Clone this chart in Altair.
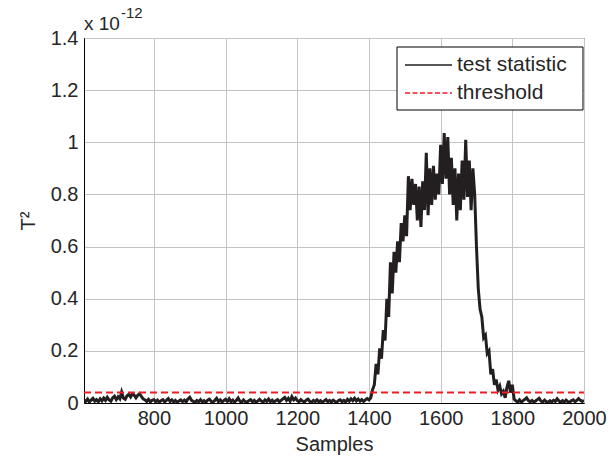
import altair as alt
import pandas as pd

# ---- data (values in units of 1e-12) ----
x_start = 605
x_step = 5
t2_values = [
    # 605-650
    0.012, 0.006, 0.015, 0.004, 0.011, 0.018, 0.007, 0.013, 0.005, 0.016,
    0.008, 0.019, 0.010, 0.022, 0.012, 0.007, 0.020, 0.026, 0.013, 0.024,
    0.016, 0.042, 0.019, 0.014, 0.028, 0.033, 0.023, 0.035, 0.030, 0.020,
    0.030, 0.036, 0.025, 0.016, 0.012, 0.006, 0.014, 0.004, 0.010, 0.013,
    0.005, 0.011, 0.003, 0.009, 0.013, 0.004, 0.010, 0.017, 0.006, 0.012,
    0.004, 0.010, 0.003, 0.008, 0.012, 0.005, 0.011, 0.004, 0.016, 0.022,
    0.010, 0.006, 0.003, 0.010, 0.005, 0.013, 0.004, 0.009, 0.003, 0.011,
    0.015, 0.006, 0.003, 0.010, 0.018, 0.005, 0.012, 0.004, 0.009, 0.014,
    0.006, 0.016, 0.005, 0.011, 0.003, 0.010, 0.019, 0.007, 0.004, 0.012,
    0.005, 0.003, 0.009, 0.013, 0.004, 0.010, 0.003, 0.008, 0.014, 0.007,
    0.004, 0.012, 0.006, 0.015, 0.005, 0.011, 0.003, 0.009, 0.013, 0.004,
    0.010, 0.016, 0.021, 0.010, 0.018, 0.007, 0.024, 0.012, 0.019, 0.009,
    0.005, 0.013, 0.007, 0.004, 0.011, 0.015, 0.006, 0.003, 0.010, 0.005,
    0.012, 0.004, 0.009, 0.003, 0.008, 0.013, 0.005, 0.010, 0.004, 0.011,
    0.006, 0.003, 0.009, 0.012, 0.005, 0.010, 0.004, 0.014, 0.007, 0.016,
    0.009, 0.018, 0.008, 0.015, 0.007, 0.013, 0.006, 0.012, 0.017, 0.012,
    # 1405-1450
    0.020, 0.050, 0.070, 0.150, 0.110, 0.210, 0.170, 0.280, 0.240, 0.400,
    0.330, 0.540, 0.420, 0.580, 0.500, 0.620, 0.540, 0.690, 0.620, 0.720,
    0.640, 0.870, 0.740, 0.860, 0.760, 0.840, 0.700, 0.830, 0.675, 0.850,
    0.740, 0.960, 0.720, 0.900, 0.760, 0.910, 0.780, 0.880, 0.800, 0.990,
    0.840, 1.035, 0.860, 1.020, 0.800, 0.940, 0.760, 0.900, 0.700, 0.880,
    0.740, 0.930, 0.780, 1.010, 0.790, 0.930, 0.740, 0.900, 0.800, 0.600,
    0.440, 0.360, 0.330, 0.250, 0.260, 0.190, 0.200, 0.110, 0.130, 0.070,
    0.090, 0.050, 0.065, 0.035, 0.045, 0.020, 0.060, 0.085, 0.040, 0.070,
    0.015, 0.008, 0.004, 0.012, 0.003, 0.009, 0.014, 0.020, 0.009, 0.005,
    0.010, 0.003, 0.008, 0.013, 0.018, 0.007, 0.004, 0.011, 0.005, 0.003,
    0.009, 0.004, 0.010, 0.006, 0.016, 0.008, 0.003, 0.009, 0.004, 0.011,
    0.005, 0.003, 0.009, 0.012, 0.005, 0.010, 0.017, 0.010, 0.006, 0.010,
]
threshold_value = 0.04
x_domain = [605, 2000]
y_domain = [0, 1.4]
series_names = ["test statistic", "threshold"]
series_colors = ["#231f20", "#ee1c25"]
series_dashes = [[1, 0], [7, 4]]
series_widths = [3.0, 2.0]
x_ticks = [800, 1000, 1200, 1400, 1600, 1800, 2000]
y_ticks = [0, 0.2, 0.4, 0.6, 0.8, 1, 1.2, 1.4]
exp_base = ["x 10"]
exp_power = ["-12"]

samples = [x_start + i * x_step for i in range(len(t2_values))]
df = pd.DataFrame({
    "Samples": samples + x_domain,
    "T2": t2_values + [threshold_value, threshold_value],
    "series": [series_names[0]] * len(t2_values) + [series_names[1]] * 2,
})

FONT = "Liberation Sans"
TXT = "#262626"

color_scale = alt.Scale(domain=series_names, range=series_colors)
dash_scale = alt.Scale(domain=series_names, range=series_dashes)

lines = alt.Chart(df).mark_line(clip=True).encode(
    x=alt.X("Samples:Q",
            scale=alt.Scale(domain=x_domain, nice=False, zero=False),
            axis=alt.Axis(values=x_ticks, title="Samples", format="d",
                          labelFlush=False, labelOverlap=False)),
    y=alt.Y("T2:Q",
            scale=alt.Scale(domain=y_domain, nice=False),
            axis=alt.Axis(values=y_ticks, title="T²", format="~g",
                          labelOverlap=False)),
    color=alt.Color("series:N", scale=color_scale, legend=None),
    strokeDash=alt.StrokeDash("series:N", scale=dash_scale, legend=None),
    strokeWidth=alt.StrokeWidth("series:N",
                                scale=alt.Scale(domain=series_names, range=series_widths),
                                legend=None),
    order=alt.Order("Samples:Q"),
)

# ---- legend box drawn inside the plot (top-right) ----
LEG_X0, LEG_X1, LEG_Y0, LEG_Y1 = 313, 499, 9, 72
ROW0, ROW_GAP = 27, 28
leg_df = pd.DataFrame({
    "series": series_names,
    "row": [ROW0 + i * ROW_GAP for i in range(len(series_names))],
})

leg_box = alt.Chart(pd.DataFrame({"k": [0]})).mark_rect(
    fill="white", stroke="black", strokeWidth=1
).encode(x=alt.value(LEG_X0), x2=alt.value(LEG_X1),
         y=alt.value(LEG_Y0), y2=alt.value(LEG_Y1))

leg_lines = alt.Chart(leg_df).mark_rule(strokeWidth=1.6).encode(
    x=alt.value(LEG_X0 + 8), x2=alt.value(LEG_X0 + 55),
    y=alt.Y("row:Q", scale=None),
    color=alt.Color("series:N", scale=color_scale, legend=None),
    strokeDash=alt.StrokeDash("series:N",
                              scale=alt.Scale(domain=series_names, range=[[1, 0], [5, 2.5]]),
                              legend=None),
)

leg_text = alt.Chart(leg_df).mark_text(
    align="left", baseline="middle", font=FONT, fontSize=21, color=TXT
).encode(x=alt.value(LEG_X0 + 60), y=alt.Y("row:Q", scale=None), text="series:N")

base_txt = alt.Chart(pd.DataFrame({"label": exp_base})).mark_text(
    align="left", baseline="alphabetic", font=FONT, fontSize=19, color=TXT
).encode(x=alt.value(0), y=alt.value(-8), text="label:N")

pow_txt = alt.Chart(pd.DataFrame({"label": exp_power})).mark_text(
    align="left", baseline="alphabetic", font=FONT, fontSize=15, color=TXT
).encode(x=alt.value(37), y=alt.value(-20), text="label:N")

chart = alt.layer(lines, leg_box, leg_lines, leg_text, base_txt, pow_txt).resolve_scale(
    color="shared", strokeDash="independent"
).properties(
    width=500, height=365,
    autosize=alt.AutoSizeParams(type="none"),
    padding={"left": 84, "top": 38, "right": 29, "bottom": 58},
    background="white",
).configure_view(
    stroke="black", strokeWidth=1
).configure_axis(
    labelFont=FONT, titleFont=FONT, labelFontSize=20, titleFontSize=20,
    labelColor=TXT, titleColor=TXT, titleFontWeight="normal",
    ticks=False, domainColor="black", domainWidth=1,
    gridColor="#c4c4c4", gridWidth=1, grid=True,
).configure_axisX(
    labelPadding=5, titlePadding=6
).configure_axisY(
    labelPadding=6, titlePadding=12
)

chart.save("out.html", embed_options={"renderer": "svg", "actions": False})
